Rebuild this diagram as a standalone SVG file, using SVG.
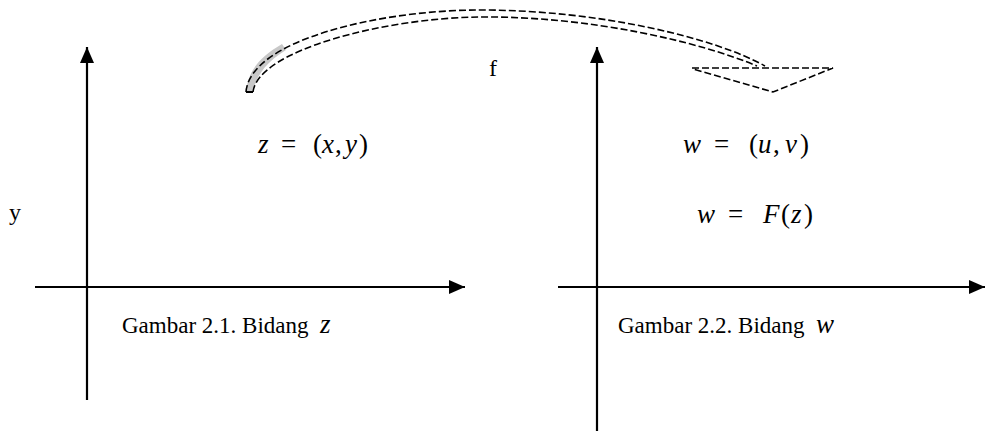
<svg xmlns="http://www.w3.org/2000/svg" width="985" height="431" viewBox="0 0 985 431">
<style>
.ax{stroke:#000;stroke-width:2.2;fill:none}
.ds{stroke:#000;stroke-width:1.6;fill:none;stroke-dasharray:7 3}
.t{font-family:"Liberation Serif","Times New Roman",serif;font-size:23px;fill:#000}
.m{font-family:"Liberation Serif","Times New Roman",serif;font-size:27px;fill:#000}
.i{font-style:italic}
</style>
<defs>
<marker id="ahv" markerWidth="16" markerHeight="16" refX="16" refY="8" orient="auto" markerUnits="userSpaceOnUse" viewBox="0 0 16 16">
<path d="M0,1 L16,8 L0,15 Z" fill="#000"/>
</marker>
</defs>
<g id="plane-z">
<line class="ax" x1="87" y1="400" x2="87" y2="47" marker-end="url(#ahv)"/>
<line class="ax" x1="35" y1="287" x2="465" y2="287" marker-end="url(#ahv)"/>
<text class="t" x="9" y="220" style="font-size:24px">y</text>
<text class="m" y="153"><tspan class="i" x="258">z</tspan><tspan x="281">=</tspan><tspan x="313">(</tspan><tspan class="i" x="322">x</tspan><tspan x="335">,</tspan><tspan class="i" x="345">y</tspan><tspan x="359">)</tspan></text>
<text class="t" x="122" y="333">Gambar 2.1. Bidang</text>
<text class="m i" x="320" y="333">z</text>
</g>
<g id="plane-w">
<line class="ax" x1="597" y1="431" x2="597" y2="47" marker-end="url(#ahv)"/>
<line class="ax" x1="558" y1="287" x2="985" y2="287" marker-end="url(#ahv)"/>
<text class="m" y="153"><tspan class="i" x="683">w</tspan><tspan x="714">=</tspan><tspan x="749">(</tspan><tspan class="i" x="758">u</tspan><tspan x="773">,</tspan><tspan class="i" x="785">v</tspan><tspan x="800">)</tspan></text>
<text class="m" y="223"><tspan class="i" x="697">w</tspan><tspan x="728">=</tspan><tspan class="i" x="763">F</tspan><tspan x="781">(</tspan><tspan class="i" x="791">z</tspan><tspan x="804">)</tspan></text>
<text class="t" x="618" y="333">Gambar 2.2. Bidang</text>
<text class="m i" x="816" y="333">w</text>
</g>
<g id="connectors">
<path d="M246,92 C248,72 258,58 282,44 L286,50 C266,62 256,76 253,92 Z" fill="#c8c8c8" stroke="none"/>
<path class="ds" d="M246,92 C250,40 380,10 480,10 C600,10 715,38 765,66"/>
<path class="ds" d="M253,92 C258,50 385,18 480,17 C590,16 700,42 757,66"/>
<line x1="246" y1="92" x2="253" y2="92" stroke="#000" stroke-width="2"/>
<path class="ds" d="M692,68 L833,68 L773,92 L693,69"/>
<text class="t" x="489" y="76" style="font-size:24px">f</text>
</g>
</svg>
